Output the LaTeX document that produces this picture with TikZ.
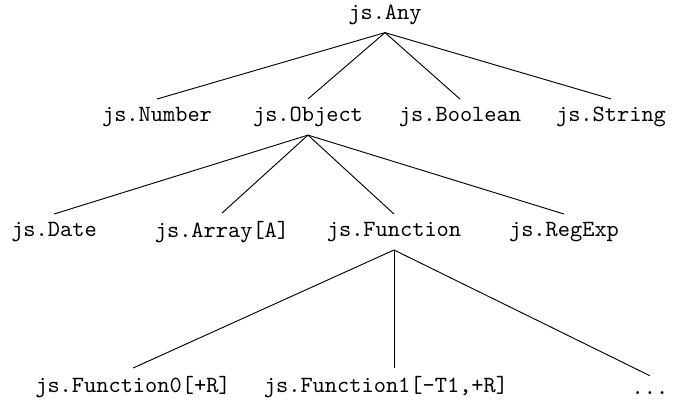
\documentclass[tikz,border=0pt]{standalone}
\begin{document}
\begin{tikzpicture}[x=0.43pt,y=-0.43pt,draw=black!100]
	\tikzstyle{type}=[font=\ttfamily]
	
	\def \rowa{14.5}
	\def \rowb{117}
	\def \rowc{232}
	\def \rowd{387}
	
	\useasboundingbox (0,0) rectangle (677,412);
	
	\node[type] 	(any)	at (385,\rowa)		{js.Any};
	
	\node[type] 	(num)	at (157,\rowb)		{js.Number};
	\node[type] 	(obj)	at (308,\rowb)		{js.Object};
	\node[type] 	(bool)	at (460,\rowb)		{js.Boolean};
	\node[type] 	(str)	at (611,\rowb)		{js.String};
	
	\node[type] 	(date)	at (54,\rowc)		{js.Date};
	\node[type] 	(arr)	at (222,\rowc)		{js.Array[A]};
	\node[type] 	(fun)	at (394,\rowc)		{js.Function};
	\node[type] 	(re)	at (564,\rowc)		{js.RegExp};
	
	\node[type] 	(fun0)	at (133,\rowd)		{js.Function0[+R]};
	\node[type] 	(fun1)	at (386,\rowd)		{js.Function1[-T1,+R]};
	\node[type,anchor=base,text height=1ex] 	(more)	at (650,394)	{...};
	
	\foreach \c in {num,obj,bool,str}
		\draw (any.south) -- (\c.north);
	\foreach \c in {date,arr,fun,re}
		\draw (obj.south) -- (\c.north);
	\draw (fun.south) -- (fun0.north);
	\draw (fun.south) -- (fun.south |- fun1.north);
	\draw (fun.south) -- (more.north);
\end{tikzpicture}
\end{document}
